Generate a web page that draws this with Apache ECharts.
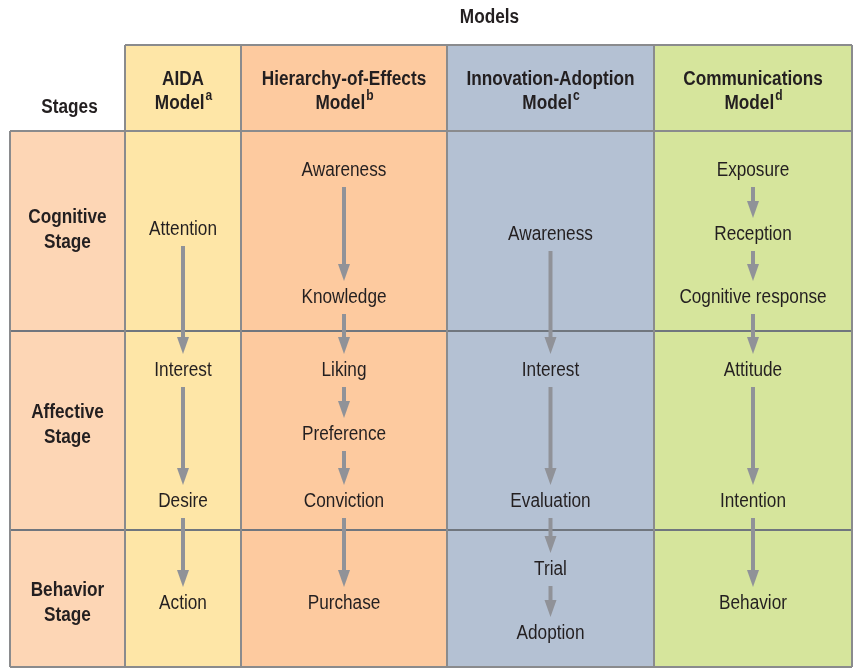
<!DOCTYPE html>
<html><head><meta charset="utf-8">
<script src="https://cdn.jsdelivr.net/npm/echarts@6/dist/echarts.min.js"></script>
<style>html,body{margin:0;padding:0;background:#fff}#c{width:854px;height:668px}</style>
</head><body><div id="c"></div>
<script>
// ---- content ----
const titleText = 'Models';
const stageHeader = 'Stages';
const stageNames = [['Cognitive','Stage'],['Affective','Stage'],['Behavior','Stage']];
const modelNames = [['AIDA','Model'],['Hierarchy-of-Effects','Model'],['Innovation-Adoption','Model'],['Communications','Model']];
const modelNotes = ['a','b','c','d'];
// vertical position of each step (diagram units)
const aidaSteps = ['Attention','Interest','Desire','Action'];
const aidaPos = [229,370,501,603];
const hoeSteps = ['Awareness','Knowledge','Liking','Preference','Conviction','Purchase'];
const hoePos = [170,297,370,434,501,603];
const innovSteps = ['Awareness','Interest','Evaluation','Trial','Adoption'];
const innovPos = [234,370,501,569,633];
const commSteps = ['Exposure','Reception','Cognitive response','Attitude','Intention','Behavior'];
const commPos = [170,234,297,370,501,603];
const stageLabelPos = [230,425,603];

// ---- layout (diagram units) ----
const L = {
  colEdges:[10,125,241,447,654,852],
  rowEdges:[45,131,331,530,667],
  titleY:17, stagesHeaderY:107, headerLine1:79, headerLine2:103,
  colFills:['#fdd6b5','#fee6a7','#fdca9f','#b4c1d3','#d6e59c'],
  text:'#231f20', arrow:'#909298', line:'#8a8b8d', rowLine:'#70767e'
};
const FONT = '"Liberation Sans",Arial,sans-serif';
const SX = 0.86;
const models = [
  {steps:aidaSteps,pos:aidaPos},
  {steps:hoeSteps,pos:hoePos},
  {steps:innovSteps,pos:innovPos},
  {steps:commSteps,pos:commPos}
];
const mctx = document.createElement('canvas').getContext('2d');
function tw(text,font){ mctx.font=font; return mctx.measureText(text).width; }

function txt(p,text,font,extra){
  return Object.assign({type:'text',x:p[0],y:p[1],scaleX:SX,
    style:{text:text,font:font,fill:L.text,align:'center',verticalAlign:'middle'}},extra||{});
}

function renderItem(params, api){
  const c = (x,y)=>api.coord([x,y]);
  const ch = [];
  const ce = L.colEdges, re = L.rowEdges;
  // fills
  for(let i=0;i<5;i++){
    const top = i===0 ? re[1] : re[0];
    const p0=c(ce[i],top), p1=c(ce[i+1],re[4]);
    ch.push({type:'rect',shape:{x:p0[0],y:p0[1],width:p1[0]-p0[0],height:p1[1]-p0[1]},style:{fill:L.colFills[i]}});
  }
  // row lines
  for(let r=1;r<4;r++){
    const a=c(ce[0],re[r]), b=c(ce[5],re[r]);
    ch.push({type:'line',shape:{x1:a[0],y1:a[1],x2:b[0],y2:b[1]},style:{stroke:r===1?L.line:L.rowLine,lineWidth:2}});
  }
  {const a=c(ce[1],re[0]), b=c(ce[5],re[0]);
   ch.push({type:'line',shape:{x1:a[0],y1:a[1],x2:b[0],y2:b[1]},style:{stroke:L.line,lineWidth:2}});}
  {const a=c(ce[0],re[4]), b=c(ce[5],re[4]);
   ch.push({type:'line',shape:{x1:a[0],y1:a[1],x2:b[0],y2:b[1]},style:{stroke:L.line,lineWidth:2}});}
  for(let i=0;i<6;i++){
    const top = i===0 ? re[1] : re[0];
    const a=c(ce[i],top), b=c(ce[i],re[4]);
    ch.push({type:'line',shape:{x1:a[0],y1:a[1],x2:b[0],y2:b[1]},style:{stroke:L.line,lineWidth:2}});
  }
  const bold='bold 20px '+FONT, reg='20px '+FONT;
  // title
  ch.push(txt(c((ce[1]+ce[5])/2+1,L.titleY),titleText,bold));
  // stages header
  ch.push(txt(c((ce[0]+ce[1])/2+2,L.stagesHeaderY),stageHeader,bold));
  // model headers
  for(let m=0;m<4;m++){
    const cx=(ce[m+1]+ce[m+2])/2;
    ch.push(txt(c(cx,L.headerLine1),modelNames[m][0],bold));
    const w=tw(modelNames[m][1],bold)*SX;
    const supW=tw(modelNotes[m],'bold 14px '+FONT)*SX;
    const p2=c(cx-supW/2,L.headerLine2);
    ch.push(txt(p2,modelNames[m][1],bold));
    ch.push({type:'text',x:p2[0]+w/2+1,y:p2[1]-7,scaleX:SX,
      style:{text:modelNotes[m],font:'bold 14px '+FONT,fill:L.text,align:'left',verticalAlign:'middle'}});
  }
  // stage labels
  for(let s=0;s<3;s++){
    const p=c((ce[0]+ce[1])/2,stageLabelPos[s]);
    ch.push(txt(p,stageNames[s].join('\n'),bold,{style:{text:stageNames[s].join('\n'),font:bold,lineHeight:25,fill:L.text,align:'center',verticalAlign:'middle'}}));
  }
  // steps and arrows
  for(let m=0;m<4;m++){
    const cx=(ce[m+1]+ce[m+2])/2;
    const md=models[m];
    for(let k=0;k<md.steps.length;k++){
      ch.push(txt(c(cx,md.pos[k]),md.steps[k],reg));
      if(k<md.steps.length-1){
        const a=c(cx,md.pos[k]+17), b=c(cx,md.pos[k+1]-16);
        const hh=17, hw=6;
        ch.push({type:'line',shape:{x1:a[0],y1:a[1],x2:b[0],y2:b[1]-hh+2},style:{stroke:L.arrow,lineWidth:4}});
        ch.push({type:'polygon',shape:{points:[[b[0]-hw,b[1]-hh],[b[0]+hw,b[1]-hh],[b[0],b[1]]]},style:{fill:L.arrow}});
      }
    }
  }
  return {type:'group',children:ch};
}

const chart = echarts.init(document.getElementById('c'),null,{renderer:'canvas'});
chart.setOption({
  animation:false,
  grid:{left:0,right:0,top:0,bottom:0},
  xAxis:{type:'value',min:0,max:854,show:false},
  yAxis:{type:'value',min:0,max:668,inverse:true,show:false},
  series:[{type:'custom',renderItem:renderItem,data:[[0,0]],silent:true}]
});
</script></body></html>
